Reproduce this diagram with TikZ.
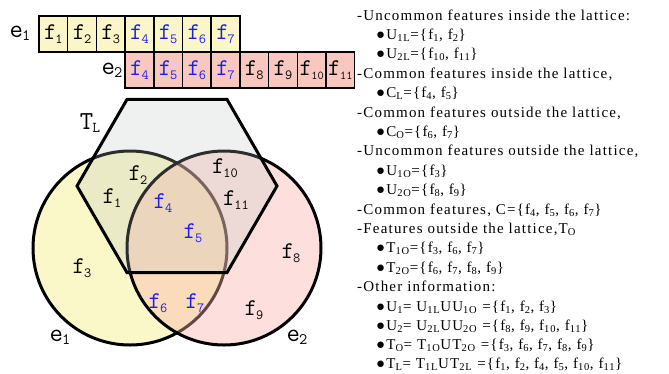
\documentclass[tikz,border=0pt]{standalone}
\usepackage{fontspec}
\setmainfont{Liberation Serif}[LetterSpace=8]
\definecolor{yel}{RGB}{250,247,200}
\definecolor{boxyel}{RGB}{250,246,200}
\definecolor{boxpink}{RGB}{248,200,192}
\definecolor{pnk}{RGB}{250,177,170}
\definecolor{hexg}{RGB}{188,196,192}
\definecolor{fblue}{RGB}{30,30,225}
\newcommand\featf[1]{f\kern-1pt\raisebox{-4pt}{\fontsize{14}{14}\selectfont #1}}
\newcommand\elab[1]{e\kern-1pt\raisebox{-3pt}{\fontsize{16}{16}\selectfont #1}}
\begin{document}
\begin{tikzpicture}[x=1pt,y=-1pt,
  cell/.style={draw=black,line width=1.5pt,minimum width=28.7pt,minimum height=36pt,inner sep=0pt,font=\ttfamily\fontsize{24}{24}\selectfont},
  c1/.style={cell,fill=boxyel},
  c2/.style={cell,fill=boxpink},
  flab/.style={font=\ttfamily\fontsize{24}{24}\selectfont,inner sep=0pt},
  elabst/.style={font=\ttfamily\fontsize{26}{26}\selectfont,inner sep=0pt},
  txt/.style={anchor=base west,inner sep=0pt,font=\fontsize{15}{15}\selectfont},
  venn/.style={line width=3pt}]
\useasboundingbox (0,0) rectangle (669,373);
% top rows
\foreach \i in {1,2,3} {\node[c1] (a\i) at (39+14.35+28.7*\i-28.7,34) {\featf{\i}};}
\foreach \i in {4,5,6,7} {\node[c1,text=fblue] (a\i) at (39+14.35+28.7*\i-28.7,34) {\featf{\i}};}
\foreach \i in {4,5,6,7} {\node[c2,text=fblue] (b\i) at (39+14.35+28.7*\i-28.7,70) {\featf{\i}};}
\foreach \i in {8,9} {\node[c2] (b\i) at (39+14.35+28.7*\i-28.7,70) {\featf{\i}};}
\foreach \i in {10,11} {\node[c2] (b\i) at (39+14.35+28.7*\i-28.7,70) {f\kern-0.5pt\raisebox{-4pt}{\fontsize{12}{12}\selectfont \i}};}
\node[elabst] (le1) at (20,33) {\elab{1}};
\node[elabst] (le2) at (112,70) {\elab{2}};
% Venn
\fill[yel] (130,248) circle (97);
\draw[venn] (130,248) circle (97);
\fill[pnk,fill opacity=0.4] (224,248) circle (97);
\draw[venn] (224,248) circle (97);
\fill[hexg,fill opacity=0.24] (277,186) -- (227,99.4) -- (127,99.4) -- (77,186) -- (127,272.6) -- (227,272.6) -- cycle;
\draw[venn,line join=miter] (277,186) -- (227,99.4) -- (127,99.4) -- (77,186) -- (127,272.6) -- (227,272.6) -- cycle;
\node[elabst] (tl) at (90,123) {T\kern-1pt\raisebox{-3pt}{\fontsize{15}{15}\selectfont L}};
\node[flab] (v2) at (138,175) {\featf{2}};
\node[flab] (v10) at (225,168) {\featf{10}};
\node[flab] (v1) at (112,198) {\featf{1}};
\node[flab,text=fblue] (v4) at (163,203) {\featf{4}};
\node[flab] (v11) at (236,200) {\featf{11}};
\node[flab,text=fblue] (v5) at (193,233) {\featf{5}};
\node[flab] (v8) at (291,253) {\featf{8}};
\node[flab] (v3) at (82,268) {\featf{3}};
\node[flab,text=fblue] (v6) at (158,303) {\featf{6}};
\node[flab,text=fblue] (v7) at (195,303) {\featf{7}};
\node[flab] (v9) at (254,310) {\featf{9}};
\node[elabst] (ve1) at (60,337) {\elab{1}};
\node[elabst] (ve2) at (297,337) {\elab{2}};
% right text
\newcommand\sbs[1]{\textsubscript{#1}}
\node[txt] (t1) at (357,15+5) {-Uncommon features inside the lattice:};
\node[txt] (t2) at (376,34.4+5) {●U\sbs{1L}=\{f\sbs{1}, f\sbs{2}\}};
\node[txt] (t3) at (376,53.8+5) {●U\sbs{2L}=\{f\sbs{10}, f\sbs{11}\}};
\node[txt] (t4) at (357,73.2+5) {-Common features inside the lattice,};
\node[txt] (t5) at (376,92.6+5) {●C\sbs{L}=\{f\sbs{4}, f\sbs{5}\}};
\node[txt] (t6) at (357,112+5) {-Common features outside the lattice,};
\node[txt] (t7) at (376,131.4+5) {●C\sbs{O}=\{f\sbs{6}, f\sbs{7}\}};
\node[txt] (t8) at (357,150.8+5) {-Uncommon features outside the lattice,};
\node[txt] (t9) at (376,170.2+5) {●U\sbs{1O}=\{f\sbs{3}\}};
\node[txt] (t10) at (376,189.6+5) {●U\sbs{2O}=\{f\sbs{8}, f\sbs{9}\}};
\node[txt] (t11) at (357,209+5) {-Common features, C=\{f\sbs{4}, f\sbs{5}, f\sbs{6}, f\sbs{7}\}};
\node[txt] (t12) at (357,228.4+5) {-Features outside the lattice,T\sbs{O}};
\node[txt] (t13) at (376,247.8+5) {●T\sbs{1O}=\{f\sbs{3}, f\sbs{6}, f\sbs{7}\}};
\node[txt] (t14) at (376,267.2+5) {●T\sbs{2O}=\{f\sbs{6}, f\sbs{7}, f\sbs{8}, f\sbs{9}\}};
\node[txt] (t15) at (357,286.6+5) {-Other information:};
\node[txt] (t16) at (376,306+5) {●U\sbs{1}= U\sbs{1L}UU\sbs{1O} =\{f\sbs{1}, f\sbs{2}, f\sbs{3}\}};
\node[txt] (t17) at (376,325.4+5) {●U\sbs{2}= U\sbs{2L}UU\sbs{2O} =\{f\sbs{8}, f\sbs{9}, f\sbs{10}, f\sbs{11}\}};
\node[txt] (t18) at (376,344.8+5) {●T\sbs{O}= T\sbs{1O}UT\sbs{2O} =\{f\sbs{3}, f\sbs{6}, f\sbs{7}, f\sbs{8}, f\sbs{9}\}};
\node[txt] (t19) at (376,364.2+4) {●T\sbs{L}= T\sbs{1L}UT\sbs{2L} =\{f\sbs{1}, f\sbs{2}, f\sbs{4}, f\sbs{5}, f\sbs{10}, f\sbs{11}\}};
\end{tikzpicture}
\end{document}
